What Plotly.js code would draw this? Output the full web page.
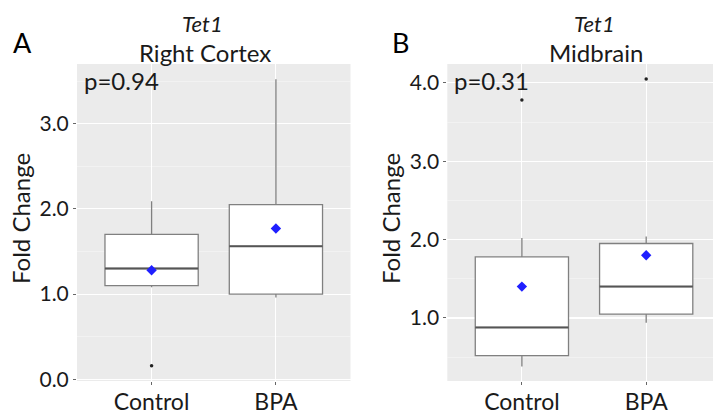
<!DOCTYPE html>
<html>
<head>
<meta charset="utf-8">
<script src="https://cdn.plot.ly/plotly-3.0.1.min.js"></script>
<style>html,body{margin:0;padding:0;background:#fff;overflow:hidden;}#chart{width:713px;height:416px;}</style>
</head>
<body>
<div id="chart"></div>
<script>
// ---- data ----
const categories = ["Control", "BPA"];

// Panel A: Right Cortex
const cortexLower = [1.08, 0.96];
const cortexQ1 = [1.10, 1.00];
const cortexMedian = [1.30, 1.56];
const cortexQ3 = [1.70, 2.05];
const cortexUpper = [2.09, 3.52];
const cortexMean = [1.28, 1.77];
const cortexOutlierGroup = ["Control"];
const cortexOutlierValue = [0.16];

// Panel B: Midbrain
const midLower = [0.38, 0.94];
const midQ1 = [0.52, 1.05];
const midMedian = [0.88, 1.40];
const midQ3 = [1.78, 1.95];
const midUpper = [2.02, 2.04];
const midMean = [1.40, 1.80];
const midOutlierGroup = ["Control", "BPA"];
const midOutlierValue = [3.78, 4.05];

const yTicksA = [0, 1, 2, 3];
const yTicksB = [1, 2, 3, 4];
const yTickTextA = ["0.0", "1.0", "2.0", "3.0"];
const yTickTextB = ["1.0", "2.0", "3.0", "4.0"];
const pValues = ["p=0.94", "p=0.31"];
const panelTitles = ["Right Cortex", "Midbrain"];
const geneName = "Tet1";
const panelLetters = ["A", "B"];

// ---- build ----
const pos = categories.map((c, i) => i + 1);
const idx = g => categories.indexOf(g) + 1;
const boxW = 0.75;
const FONT = "Lato, 'Open Sans', sans-serif";
const TXT = "#1a1a1a";

function panelTraces(xa, ya, lower, q1, med, q3, upper, mean, outG, outV) {
  const t = [];
  t.push({
    type: "box", x: pos, q1: q1, median: med, q3: q3,
    lowerfence: lower, upperfence: upper,
    width: boxW, whiskerwidth: 0, boxpoints: false,
    fillcolor: "#ffffff", line: {color: "#808080", width: 1.3},
    xaxis: xa, yaxis: ya, showlegend: false, hoverinfo: "skip"
  });
  pos.forEach((p, i) => {
    t.push({
      type: "scatter", mode: "lines",
      x: [p - boxW / 2, p + boxW / 2], y: [med[i], med[i]],
      line: {color: "#555555", width: 2},
      xaxis: xa, yaxis: ya, showlegend: false, hoverinfo: "skip"
    });
  });
  t.push({
    type: "scatter", mode: "markers", x: outG.map(idx), y: outV,
    marker: {color: "#222222", size: 3.5},
    xaxis: xa, yaxis: ya, showlegend: false
  });
  t.push({
    type: "scatter", mode: "markers", x: pos, y: mean,
    marker: {color: "#1f1fff", size: 8, symbol: "diamond"},
    xaxis: xa, yaxis: ya, showlegend: false
  });
  return t;
}

const traces = [].concat(
  panelTraces("x", "y", cortexLower, cortexQ1, cortexMedian, cortexQ3, cortexUpper, cortexMean, cortexOutlierGroup, cortexOutlierValue),
  panelTraces("x2", "y2", midLower, midQ1, midMedian, midQ3, midUpper, midMean, midOutlierGroup, midOutlierValue)
);

const W = 713, H = 416;
const px = v => v / W;
const py = v => 1 - v / H;

function xAxis(domain, range, anchor) {
  return {
    domain: domain, range: range, anchor: anchor, tickvals: pos, ticktext: categories,
    showgrid: true, gridcolor: "#ffffff", gridwidth: 1.1, zeroline: false,
    ticks: "outside", ticklen: 3, tickcolor: "#666", tickwidth: 1,
    ticklabelstandoff: -3,
    tickfont: {family: FONT, size: 23, color: TXT}, showline: false, fixedrange: true
  };
}
function yAxis(domain, range, tv, tt, anchor) {
  return {
    domain: domain, range: range, anchor: anchor, tickvals: tv, ticktext: tt,
    showgrid: true, gridcolor: "#ffffff", gridwidth: 1.1, zeroline: false,
    minor: {dtick: 0.5, tick0: 0, showgrid: true, gridcolor: "#f7f7f7", gridwidth: 0.6, ticks: ""},
    ticks: "outside", ticklen: 3, tickcolor: "#666", tickwidth: 1,
    tickfont: {family: FONT, size: 21, color: TXT}, showline: false, fixedrange: true
  };
}

const yDom = [py(381), py(64)];
const layout = {
  width: W, height: H,
  margin: {l: 0, r: 0, t: 0, b: 0},
  paper_bgcolor: "#ffffff", plot_bgcolor: "#ebebeb",
  font: {family: FONT, color: TXT},
  xaxis: xAxis([px(77), px(350.5)], [0.4, 2.6], "y"),
  yaxis: yAxis(yDom, [-0.02, 3.70], yTicksA, yTickTextA, "x"),
  xaxis2: xAxis([px(447.3), 1], [0.4, 2.5375], "y2"),
  yaxis2: yAxis(yDom, [0.196, 4.24], yTicksB, yTickTextB, "x2"),
  showlegend: false,
  annotations: [
    {text: panelLetters[0], x: px(22), y: py(43), xref: "paper", yref: "paper", showarrow: false, xanchor: "center", yanchor: "middle", font: {family: FONT, size: 27, color: "#000"}},
    {text: panelLetters[1], x: px(400), y: py(43), xref: "paper", yref: "paper", showarrow: false, xanchor: "center", yanchor: "middle", font: {family: FONT, size: 27, color: "#000"}},
    {text: "<i>" + geneName + "</i>", x: px(202), y: py(23), xref: "paper", yref: "paper", showarrow: false, xanchor: "center", yanchor: "middle", font: {family: FONT, size: 22, color: TXT}},
    {text: "<i>" + geneName + "</i>", x: px(594), y: py(23), xref: "paper", yref: "paper", showarrow: false, xanchor: "center", yanchor: "middle", font: {family: FONT, size: 22, color: TXT}},
    {text: panelTitles[0], x: px(205), y: py(52), xref: "paper", yref: "paper", showarrow: false, xanchor: "center", yanchor: "middle", font: {family: FONT, size: 24, color: TXT}},
    {text: panelTitles[1], x: px(596), y: py(52), xref: "paper", yref: "paper", showarrow: false, xanchor: "center", yanchor: "middle", font: {family: FONT, size: 24, color: TXT}},
    {text: "Fold Change", textangle: -90, x: px(20), y: py(219), xref: "paper", yref: "paper", showarrow: false, xanchor: "center", yanchor: "middle", font: {family: FONT, size: 24, color: TXT}},
    {text: "Fold Change", textangle: -90, x: px(390), y: py(219), xref: "paper", yref: "paper", showarrow: false, xanchor: "center", yanchor: "middle", font: {family: FONT, size: 24, color: TXT}},
    {text: pValues[0], x: px(82), y: py(81), xref: "paper", yref: "paper", showarrow: false, xanchor: "left", yanchor: "middle", font: {family: FONT, size: 24, color: TXT}},
    {text: pValues[1], x: px(452), y: py(81), xref: "paper", yref: "paper", showarrow: false, xanchor: "left", yanchor: "middle", font: {family: FONT, size: 24, color: TXT}}
  ]
};

Plotly.newPlot("chart", traces, layout, {displayModeBar: false, staticPlot: true});
</script>
</body>
</html>
